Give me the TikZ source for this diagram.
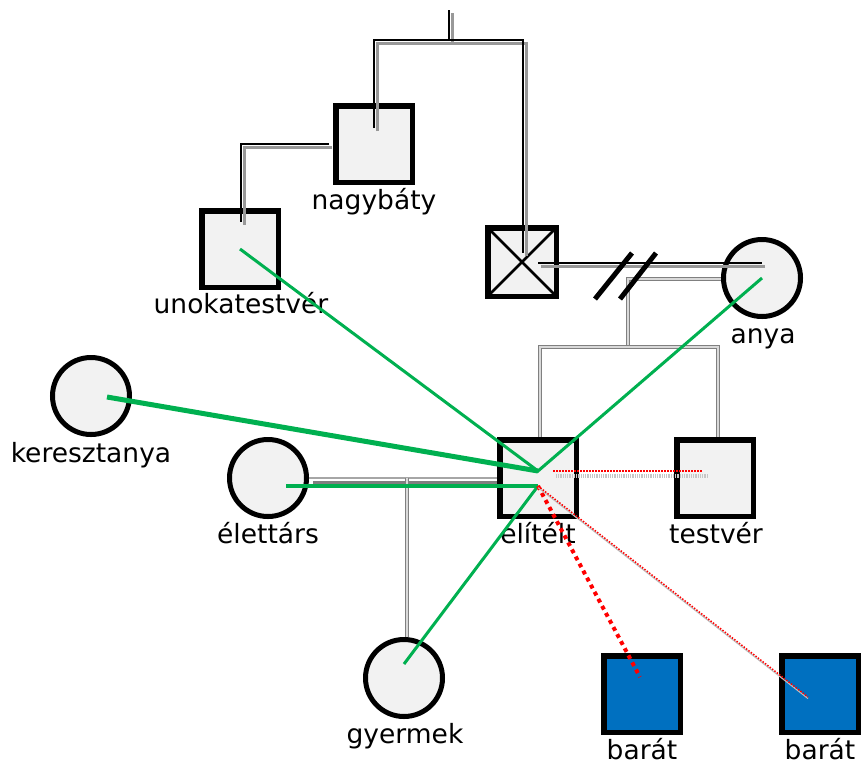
\documentclass[tikz,border=0pt]{standalone}
\usepackage{fontspec}
\setmainfont{DejaVu Sans}
\usetikzlibrary{calc}
\definecolor{fillg}{HTML}{F2F2F2}
\definecolor{bblue}{HTML}{0070C0}
\definecolor{ggreen}{HTML}{00B050}
\pgfdeclarelayer{bg}
\pgfsetlayers{bg,main}
\begin{document}
\begin{tikzpicture}[x=1pt,y=-1pt,
  sq/.style={rectangle, draw=black, line width=5.5pt, fill=fillg, minimum size=76.5pt, inner sep=0pt},
  ci/.style={circle, draw=black, line width=5pt, fill=fillg, minimum size=77pt, inner sep=0pt},
  fr/.style={sq, fill=bblue},
  lbl/.style={anchor=base, font=\fontsize{26.5}{31}\selectfont, inner sep=0pt},
  famline/.style={draw=black, line width=1.5pt,
    preaction={draw=gray!80, line width=3pt, transform canvas={xshift=3pt, yshift=-3pt}}},
  partline/.style={draw=gray!70, line width=1.2pt,
    preaction={draw=gray, line width=3pt, transform canvas={xshift=4pt, yshift=-4pt}}},
  childline/.style={draw=gray, double=gray!30, line width=1.3pt, double distance=1.3pt},
  grn/.style={draw=ggreen, line width=3pt},
  reddot/.style={draw=red, line width=1.5pt, dash pattern=on 1.5pt off 1.5pt},
]
\path[use as bounding box] (0,0) rectangle (864,764);

% junction coordinates
\coordinate (top) at (449,10);
\coordinate (tr) at (523,40);
\coordinate (cj) at (628,347);
\coordinate (pj) at (407,478);

% shapes
\node[sq] (nag) at (374,144) {};
\node[sq] (uno) at (240,249) {};
\node[sq, minimum size=68.5pt,
  path picture={\draw[line width=2.5pt] (path picture bounding box.north west) -- (path picture bounding box.south east)
    (path picture bounding box.north east) -- (path picture bounding box.south west);}] (apa) at (522,262) {};
\node[ci] (anya) at (762,278) {};
\node[ci] (ker) at (91,396) {};
\node[ci] (ele) at (268,478) {};
\node[sq] (eli) at (538,478) {};
\node[sq] (tes) at (715,478) {};
\node[ci] (gye) at (404,678) {};
\node[fr] (bar1) at (642,694) {};
\node[fr] (bar2) at (820,694) {};

% lines under the shapes
\begin{pgfonlayer}{bg}
\draw[childline] ($(anya.west)+(0,1)$) -| (cj);
\draw[childline] ($(eli.north)+(2,0)$) |- (cj) -| ($(tes.north)+(3,0)$);
\draw[partline] (ele.east) -- ($(eli.west)+(2,0)$);
\draw[childline] (pj) -- (pj |- gye.north);
\end{pgfonlayer}

% labels
\node[lbl] (nagL) at (374,209) {nagybáty};
\node[lbl] (unoL) at (241,313) {unokatestvér};
\node[lbl] (anyaL) at (763,343) {anya};
\node[lbl] (kerL) at (91,462) {keresztanya};
\node[lbl] (eleL) at (268,543) {élettárs};
\node[lbl] (eliL) at (538,543) {elítélt};
\node[lbl] (tesL) at (716,543) {testvér};
\node[lbl] (gyeL) at (405,743) {gyermek};
\node[lbl] (bar1L) at (642,759) {barát};
\node[lbl] (bar2L) at (820,759) {barát};

% family lines
\draw[famline] (top) -- (top |- tr);
\draw[famline] ($(nag)+(0,-16)$) |- (tr) -- ($(apa)+(1,-9)$);
\draw[famline] ($(nag.west)+(-4,0)$) -| ($(uno)+(1,-27)$);
\draw[famline] ($(apa)+(16,1)$) -- ($(anya)+(0,-15)$);

% divorce marks
\draw[line width=5pt] (595,299) -- (632,253) (620,299) -- (656,253);

% relationship lines
\coordinate (gA) at ($(eli)+(0,-7)$);
\coordinate (gB) at ($(eli)+(0,8)$);
\draw[gray!45, line width=4pt, dash pattern=on 1pt off 0.8pt] ($(eli)+(18,-2)$) -- ($(tes)+(-7,-2)$);
\draw[reddot] ($(eli)+(15,-7)$) -- ($(tes)+(-12,-7)$);

\draw[grn] (uno.center) -- (gA) -- (anya.center);
\draw[grn, line width=5pt] ($(ker)+(16,1)$) -- (gA);
\draw[grn, line width=4pt] ($(ele)+(18,8)$) -- (gB);
\draw[grn] ($(gye)+(0,-14)$) -- (gB);

\draw[red, line width=4pt, dash pattern=on 4pt off 4pt] (gB) -- ($(bar1)+(-2,-17)$);
\draw[gray!50, line width=1.2pt, transform canvas={yshift=-1.5pt}] (gB) -- ($(bar2)+(-12,3)$);
\draw[reddot] (gB) -- ($(bar2)+(-12,3)$);
\end{tikzpicture}
\end{document}
